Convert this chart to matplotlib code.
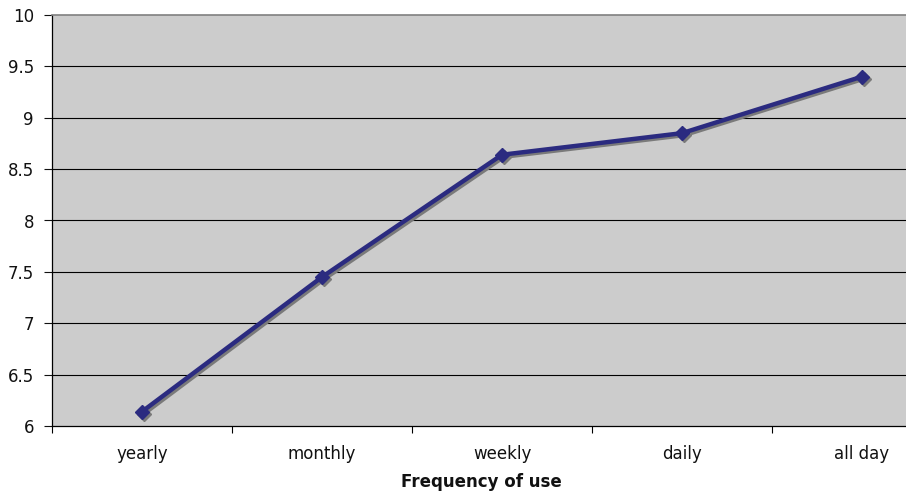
import matplotlib
matplotlib.use("Agg")
import matplotlib.pyplot as plt
import matplotlib.transforms as mtransforms

categories = ["yearly", "monthly", "weekly", "daily", "all day"]
values = [6.14, 7.45, 8.64, 8.85, 9.40]
yticks = [6, 6.5, 7, 7.5, 8, 8.5, 9, 9.5, 10]
ytick_labels = ["6", "6.5", "7", "7.5", "8", "8.5", "9", "9.5", "10"]

W, H = 906, 494
fig = plt.figure(figsize=(W / 100, H / 100), dpi=100)
fig.patch.set_facecolor("white")
left, right, top, bottom = 52, 952, 15, 426
ax = fig.add_axes([left / W, 1 - bottom / H, (right - left) / W, (bottom - top) / H])
ax.set_facecolor("#cccccc")

x = list(range(len(categories)))
shadow_tr = mtransforms.offset_copy(ax.transData, fig=fig, x=2, y=-2, units="dots")
ax.plot(x, values, color="#7a7a7a", lw=3.2, marker="D", ms=7.5, mec="#7a7a7a", mfc="#7a7a7a",
        zorder=4, transform=shadow_tr)
ax.plot(x, values, color="#2b2b80", lw=3.2, marker="D", ms=7.5, mec="#2b2b80", mfc="#2b2b80",
        zorder=5)

ax.set_xlim(-0.5, len(categories) - 0.5)
ax.set_ylim(6, 10)
ax.set_yticks(yticks)
ax.set_yticklabels(ytick_labels)
ax.set_xticks(x)
ax.set_xticklabels(categories)
ax.set_xticks([i + 0.5 for i in range(-1, len(categories))], minor=True)
ax.tick_params(axis="x", which="major", length=0, pad=14, labelsize=12, colors="#111111")
ax.tick_params(axis="x", which="minor", length=5, direction="out", width=0.8)
ax.tick_params(axis="y", length=6, direction="out", width=0.8, labelsize=12, pad=7, colors="#111111")

for yv in yticks[1:-1]:
    ax.axhline(yv, color="#000000", lw=0.8, zorder=1)

ax.spines["top"].set_color("#808080")
ax.spines["top"].set_linewidth(1.2)
ax.spines["right"].set_visible(False)
ax.spines["left"].set_color("#000000")
ax.spines["bottom"].set_color("#000000")
ax.spines["left"].set_linewidth(0.9)
ax.spines["bottom"].set_linewidth(0.9)

fig.text(481 / W, 1 - 482 / H, "Frequency of use", ha="center", va="center",
         fontsize=12, fontweight="bold", color="#111111")

fig.savefig("out.png", dpi=100)
